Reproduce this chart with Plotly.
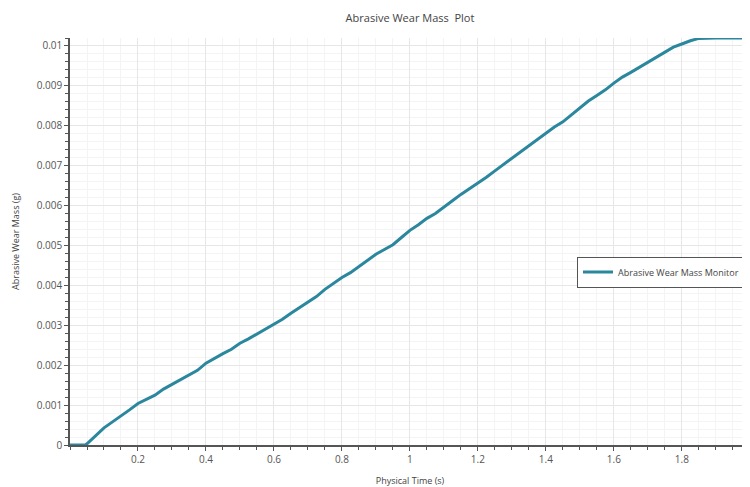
import plotly.graph_objects as go

time_s = [0, 0.02, 0.045, 0.05, 0.07, 0.1, 0.125, 0.15, 0.175, 0.2, 0.225, 0.25, 0.275, 0.3, 0.325,
          0.35, 0.375, 0.4, 0.425, 0.45, 0.475, 0.5, 0.525, 0.55, 0.575, 0.6, 0.625, 0.65, 0.675,
          0.7, 0.725, 0.75, 0.775, 0.8, 0.825, 0.85, 0.875, 0.9, 0.925, 0.95, 0.975, 1.0, 1.025,
          1.05, 1.075, 1.1, 1.125, 1.15, 1.175, 1.2, 1.225, 1.25, 1.275, 1.3, 1.325, 1.35, 1.375,
          1.4, 1.425, 1.45, 1.475, 1.5, 1.525, 1.55, 1.575, 1.6, 1.625, 1.65, 1.675, 1.7, 1.725,
          1.75, 1.775, 1.8, 1.825, 1.85, 1.875, 1.9, 2.0]
wear_mass_g = [0, 0, 0, 0.00003, 0.0002, 0.00043, 0.00058, 0.00072, 0.00088, 0.00104, 0.00115,
               0.00125, 0.00140, 0.00152, 0.00163, 0.00176, 0.00187, 0.00205, 0.00218, 0.00229,
               0.00240, 0.00255, 0.00266, 0.00278, 0.00289, 0.00301, 0.00315, 0.00330, 0.00344,
               0.00360, 0.00372, 0.00390, 0.00405, 0.00420, 0.00432, 0.00448, 0.00463, 0.00478,
               0.00490, 0.00502, 0.00520, 0.00538, 0.00552, 0.00568, 0.00580, 0.00597, 0.00612,
               0.00628, 0.00642, 0.00655, 0.00671, 0.00687, 0.00703, 0.00717, 0.00733, 0.00750,
               0.00766, 0.00782, 0.00797, 0.00810, 0.00828, 0.00845, 0.00862, 0.00876, 0.00890,
               0.00907, 0.00922, 0.00934, 0.00947, 0.00960, 0.00972, 0.00986, 0.00997, 0.01005,
               0.01013, 0.01019, 0.0102, 0.0102, 0.0102]

x_ticks = [0.2, 0.4, 0.6, 0.8, 1.0, 1.2, 1.4, 1.6, 1.8, 2.0]
x_labels = ["0.2", "0.4", "0.6", "0.8", "1", "1.2", "1.4", "1.6", "1.8", "2"]
y_ticks = [0, 0.001, 0.002, 0.003, 0.004, 0.005, 0.006, 0.007, 0.008, 0.009, 0.01]
y_labels = ["0", "0.001", "0.002", "0.003", "0.004", "0.005", "0.006", "0.007", "0.008", "0.009", "0.01"]

# the page body has an 8px margin, so the figure is drawn 8px in from the top-left
W, H = 742, 479

fig = go.Figure()
fig.add_trace(go.Scatter(
    x=time_s, y=wear_mass_g, mode="lines",
    name="Abrasive Wear Mass Monitor",
    line=dict(color="#2a879e", width=3),
))

font = dict(family="Open Sans, DejaVu Sans, sans-serif", size=10, color="#555555")

fig.update_layout(
    width=W, height=H,
    margin=dict(l=62, r=0, t=30, b=42),
    paper_bgcolor="white", plot_bgcolor="white",
    font=font,
    title=dict(text="Abrasive Wear Mass  Plot", x=402 / W, xanchor="center",
               y=1 - 10 / H, yanchor="middle", font=dict(size=11, color="#444444")),
    showlegend=True,
    legend=dict(x=(577 - 70) / 680, y=(445 - 272) / 407, xanchor="left", yanchor="middle",
                bordercolor="#555555", borderwidth=1, bgcolor="white",
                itemwidth=30, font=dict(size=9, color="#444444")),
)

fig.update_xaxes(
    range=[0, 2.0005], tickvals=x_ticks, ticktext=x_labels,
    showline=True, linecolor="#555555", linewidth=1.5,
    ticks="outside", ticklen=4, tickcolor="#555555",
    showgrid=True, gridcolor="#e6e6e6", zeroline=False,
    minor=dict(dtick=0.05, showgrid=True, gridcolor="#f4f4f4", ticks="outside",
               ticklen=3, tickcolor="#555555"),
    title=dict(text="Physical Time (s)", font=dict(size=9, color="#444444"), standoff=13),
)
fig.update_yaxes(
    range=[0, 0.0102], tickvals=y_ticks, ticktext=y_labels,
    showline=True, linecolor="#555555", linewidth=1.5,
    ticks="outside", ticklen=4, tickcolor="#555555",
    showgrid=True, gridcolor="#e6e6e6", zeroline=False,
    minor=dict(dtick=0.0002, showgrid=True, gridcolor="#f4f4f4", ticks="outside",
               ticklen=3, tickcolor="#555555"),
    title=dict(text="Abrasive Wear Mass (g)", font=dict(size=9, color="#444444"), standoff=16),
)

fig.write_html("out.html")
